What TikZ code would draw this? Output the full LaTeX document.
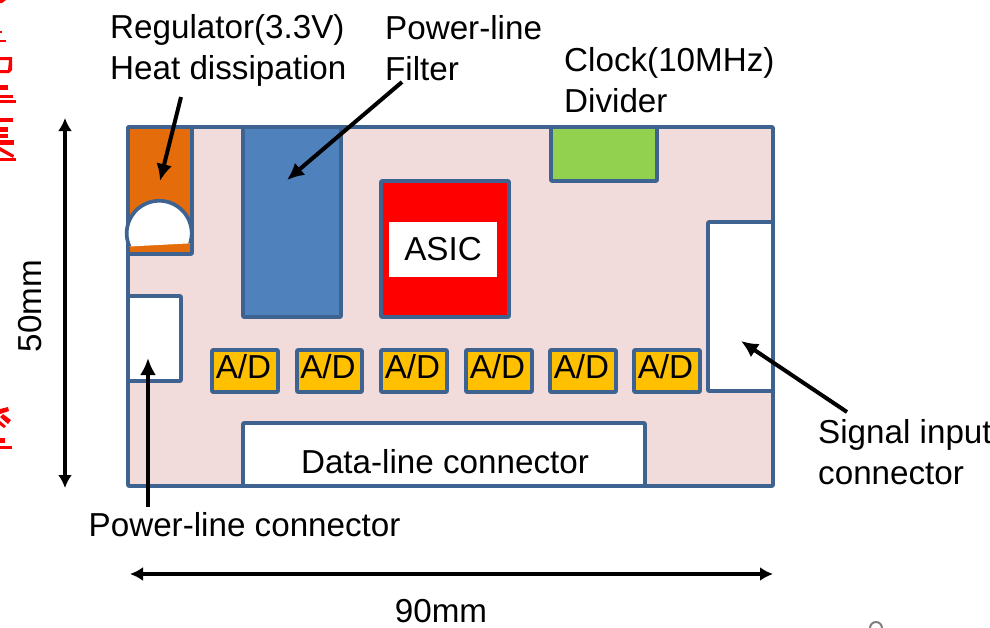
\documentclass[tikz,border=0pt]{standalone}
\usepackage{fontspec}
\setmainfont{Liberation Sans}
\usetikzlibrary{arrows.meta}
\definecolor{edgeblue}{HTML}{3E6390}
\definecolor{boardpink}{HTML}{F2DCDB}
\definecolor{regorange}{HTML}{E46C0A}
\definecolor{filterblue}{HTML}{4F81BD}
\definecolor{clockgreen}{HTML}{92D050}
\definecolor{adyellow}{HTML}{FFC000}
\tikzset{
  part/.style={draw=edgeblue,line width=3.7pt,rounded corners=0.8pt,line join=round},
  lbl/.style={font=\fontsize{33.2}{41}\selectfont,text=black,inner sep=0pt,align=left,anchor=west},
  pointer/.style={draw=black,line width=4pt,-{Latex[length=17pt,width=16pt]},shorten >=0pt},
  dim/.style={draw=black,line width=3.6pt,{Latex[length=13pt,width=14pt]}-{Latex[length=13pt,width=14pt]}},
  adbox/.style={part,fill=adyellow},
  redbit/.style={fill=red,draw=none},
}
\begin{document}
\begin{tikzpicture}[x=1pt,y=-1pt]
\useasboundingbox (0,0) rectangle (990,627);
% board
\draw[part,fill=boardpink] (128,127) rectangle (773,486);
\draw[part,fill=regorange] (128,127) rectangle (192,254);
\draw[part,fill=filterblue] (243,127) rectangle (341,317);
\draw[part,fill=clockgreen] (551,127) rectangle (657,181);
\draw[part,fill=red] (381,181) rectangle (509,317);
\node[fill=white,minimum width=108pt,minimum height=55pt,inner sep=0pt,font=\fontsize{33.2}{41}\selectfont] (asic) at (443,249.5) {ASIC};
% regulator half circle
\fill[white] (129.5,246.5) arc[start angle=156,end angle=378,radius=32.5] -- cycle;
\draw[edgeblue,line width=3.7pt] (129.5,246.5) arc[start angle=156,end angle=378,radius=32.5];
% connectors
\draw[part,fill=white] (128,296) rectangle (181,381);
\draw[part,fill=white] (708,222) rectangle (773,391);
\draw[part,fill=white] (243,423) rectangle (645,486);
% A/D
\foreach \n/\l/\r in {1/212/278,2/297/362,3/381/447,4/466/532,5/550/616,6/634/700}{
  \draw[adbox] (\l,350) rectangle (\r,392);
  \node[font=\fontsize{33.2}{41}\selectfont,inner sep=0pt] (ad\n) at ({(\l+\r)/2-1.5},367) {A/D};
}
% labels
\node[lbl] (reg) at (110,50) {Regulator(3.3V)\\Heat dissipation};
\node[lbl] (filt) at (385,48.5) {Power-line\\Filter};
\node[lbl] (clk) at (564,80) {Clock(10MHz)\\Divider};
\node[lbl] (sig) at (818,452) {Signal input\\connector};
\node[lbl] (pwr) at (88.5,525) {Power-line connector};
\node[lbl,anchor=center] (data) at (445,462) {Data-line connector};
\node[lbl,anchor=center] (w90) at (441,611) {90mm};
\node[lbl,anchor=center,rotate=90] (h50) at (30,306) {50mm};
% coordinates
\coordinate (regS) at (181,97);  \coordinate (regT) at (160,181);
\coordinate (filS) at (402,82);  \coordinate (filT) at (287,180);
\coordinate (pwrS) at (148,507); \coordinate (pwrT) at (148,358);
\coordinate (sigS) at (847,412); \coordinate (sigT) at (741,341);
\coordinate (vT) at (65,118); \coordinate (vB) at (65,488);
\coordinate (hL) at (130,574); \coordinate (hR) at (773,574);
\draw[pointer] (regS) -- (regT);
\draw[pointer] (filS) -- (filT);
\draw[pointer] (pwrS) -- (pwrT);
\draw[pointer] (sigS) -- (sigT);
\draw[dim] (vT) -- (vB);
\draw[dim] (hL) -- (hR);
% cropped red fragments at the left edge
\fill[redbit] (0,0) -- (6,0) -- (2,3) -- (0,3) -- cycle;
\fill[redbit] (0,31) rectangle (2,33);
\fill[redbit] (0,40) rectangle (6,42);
\fill[redbit] (0,57) -- (12,57) -- (12,70) -- (9,73) -- (0,73) -- (0,70) -- (8,70) -- (9,60) -- (0,60) -- cycle;
\fill[redbit] (0,85) rectangle (8,90);
\fill[redbit] (0,95) rectangle (13,98);
\fill[redbit] (0,100) rectangle (16,103);
\fill[redbit] (0,118) rectangle (13,122);
\fill[redbit] (0,127) rectangle (8,132);
\fill[redbit] (0,134) rectangle (8,138);
\fill[redbit] (0,140) rectangle (14,145);
\fill[redbit] (0,147) -- (14,155) -- (13,158) -- (0,151) -- cycle;
\fill[redbit] (0,158) rectangle (16,161);
\fill[redbit] (0,409) -- (8,407) -- (9,411) -- (0,414) -- cycle;
\fill[redbit] (0,417) -- (3,414) -- (11,420) -- (8,424) -- cycle;
\fill[redbit] (0,421) -- (6,426) -- (4,428) -- (0,425) -- cycle;
\fill[redbit] (0,438) rectangle (5,443);
\fill[redbit] (0,446) rectangle (12,449);
% cropped page number
\draw[gray,line width=2pt] (870,628) arc[start angle=180,end angle=360,radius=6];
\end{tikzpicture}
\end{document}
